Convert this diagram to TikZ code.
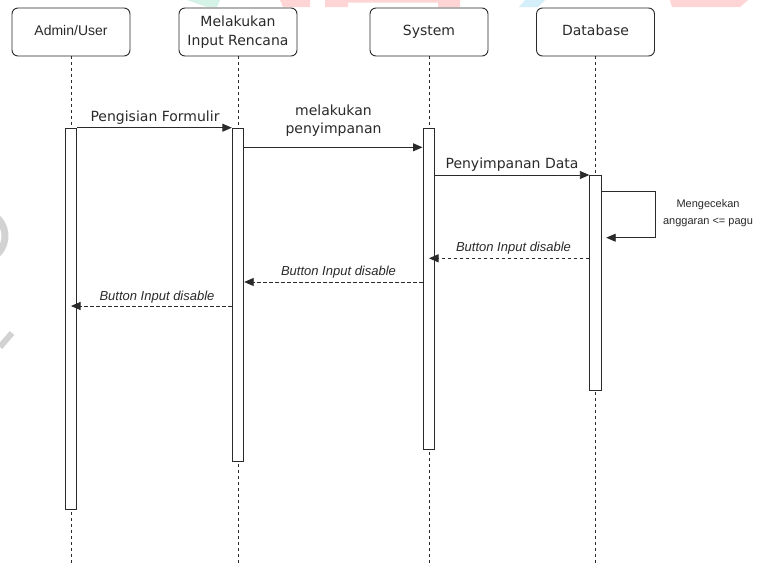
\documentclass[tikz,border=0pt]{standalone}
\usepackage{fontspec}
\setmainfont{DejaVu Sans}
\newfontfamily\arialf{Liberation Sans}
\usetikzlibrary{arrows.meta,calc}

\definecolor{linec}{HTML}{2A2A2A}
\definecolor{txt}{HTML}{2A2A2A}
\definecolor{wmred}{HTML}{FFD4D4}
\definecolor{wmgreen}{HTML}{D4F3E6}
\definecolor{wmblue}{HTML}{D4EEFA}
\definecolor{wmgray}{HTML}{D2D2D2}

\tikzset{
  head/.style={draw=linec, rounded corners=6pt, minimum width=118pt, minimum height=48pt,
    fill=white, line width=0.9pt, font=\fontsize{14}{18.4}\selectfont, text=txt,
    align=center, inner sep=0pt},
  oneline/.style={text height=10.5pt, text depth=3pt},
  actbar/.style={draw=linec, fill=white, line width=0.9pt, minimum width=11.5pt,
    inner sep=0pt, anchor=north},
  life/.style={draw=linec, dash pattern=on 3pt off 3pt, line width=0.8pt},
  msg/.style={draw=linec, line width=0.9pt, -{Triangle[length=9.5pt,width=8pt]}},
  ret/.style={msg, dash pattern=on 3.5pt off 2.5pt},
  lbl/.style={font=\fontsize{14}{18}\selectfont, text=txt, inner sep=0pt, align=center},
  rlbl/.style={font=\arialf\itshape\fontsize{13}{15}\selectfont, text=txt, inner sep=0pt, anchor=base},
  notelbl/.style={font=\arialf\fontsize{11}{16.6}\selectfont, text=txt, inner sep=0pt, align=center}
}

\begin{document}
\begin{tikzpicture}[x=1pt,y=-1pt]
  \useasboundingbox (0,0) rectangle (771,566);
  \fill[white] (0,0) rectangle (771,566);

  % faint logo shapes in the background
  \fill[wmgreen] (187,0) -- (220,0) -- (217,7) -- (207,7) -- cycle;
  \fill[wmred] (280,0) -- (310,0) -- (310,7) -- (283,7) -- cycle;
  \fill[wmred] (325,0) -- (460,0) -- (460,7) -- (438,7) -- (438,2.5) -- (348,2.5) -- (348,7) -- (325,7) -- cycle;
  \fill[wmblue] (525,0) -- (545,0) -- (538,7) -- (519,7) -- cycle;
  \fill[wmred] (670,0) -- (748,0) -- (740,7) -- (672,7) -- cycle;
  \draw[wmgray, line width=7pt] (-20,236) ++(-60:25) arc[start angle=-60, end angle=60, radius=25];
  \draw[wmgray, line width=6pt] (0,347) -- (12,333);

  % participants
  \node[head, oneline] (admin) at (71,32)    {\arialf Admin/User};
  \node[head]          (input) at (238,32)   {Melakukan\\Input Rencana};
  \node[head, oneline] (sys)   at (429,32)   {System};
  \node[head, oneline] (db)    at (595.5,32) {Database};

  % lifelines
  \coordinate (bottom) at (0,566);
  \foreach \p in {admin,input,sys,db}
    \draw[life] (\p.south) -- (\p.south |- bottom);

  % activation bars
  \node[actbar, minimum height=381.5pt] (actA) at (71,127.5)  {};
  \node[actbar, minimum height=333.5pt] (actI) at (238,127.5) {};
  \node[actbar, minimum height=321pt]   (actS) at (428.7,128) {};
  \node[actbar, minimum height=214.5pt] (actD) at (595.5,175) {};

  % message rows
  \coordinate (m1) at (0,127.7);
  \coordinate (m2) at (0,147.3);
  \coordinate (m3) at (0,175);
  \coordinate (s1) at (0,191.7);
  \coordinate (s2) at (0,237.7);
  \coordinate (r1) at (0,258.3);
  \coordinate (r2) at (0,282);
  \coordinate (r3) at (0,306);

  % calls
  \draw[msg] (actA.east |- m1) -- (actI.west |- m1);
  \node[lbl, anchor=base] (l1) at (155,121.5) {Pengisian Formulir};

  \draw[msg] (actI.east |- m2) -- (actS.west |- m2);
  \node[lbl] (l2) at (333.5,120.5) {melakukan\\penyimpanan};

  \draw[msg] (actS.east |- m3) -- (actD.west |- m3);
  \node[lbl, anchor=base] (l3) at (512,168.3) {Penyimpanan Data};

  % self call on the database
  \coordinate (loopTop) at (655,191.7);
  \coordinate (loopBot) at (655,237.7);
  \draw[msg] (actD.east |- s1) -- (loopTop) -- (loopBot) -- ([xshift=4.5pt]actD.east |- s2);
  \node[notelbl] (l4) at (708,213.2) {Mengecekan\\anggaran <= pagu};

  % replies
  \draw[ret] (actD.west |- r1) -- (sys.south |- r1);
  \node[rlbl] (l5) at (513.5,251) {Button Input disable};

  \draw[ret] (actS.west |- r2) -- (actI.east |- r2);
  \node[rlbl] (l6) at (338.5,275) {Button Input disable};

  \draw[ret] (actI.west |- r3) -- (admin.south |- r3);
  \node[rlbl] (l7) at (157,300) {Button Input disable};
\end{tikzpicture}
\end{document}
